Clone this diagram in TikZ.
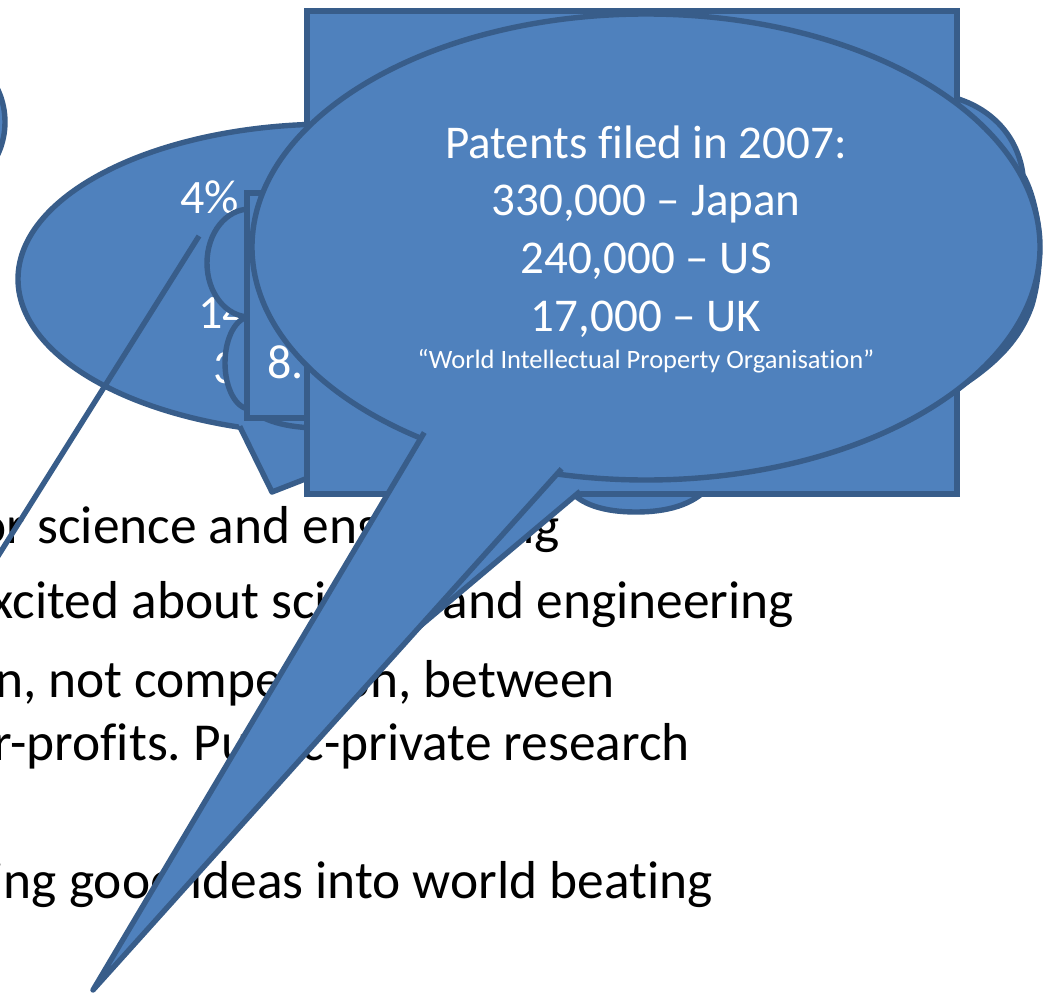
\documentclass[tikz,border=0pt]{standalone}
\usepackage{fontspec}
\setmainfont{Carlito}[Ligatures={NoCommon,NoContextual}]
\usetikzlibrary{calc}
\definecolor{shapefill}{HTML}{4F81BD}
\definecolor{shapeline}{HTML}{385D8A}
\frenchspacing
\tikzset{
  shp/.style={fill=shapefill, draw=shapeline, line width=5.4pt, line join=round},
  edgeline/.style={draw=shapeline, line width=5.4pt, line join=round},
  bullettext/.style={anchor=base east, inner sep=0pt, outer sep=0pt, text=black, font=\fontsize{53.4}{60}\selectfont},
  calltext/.style={anchor=base, inner sep=0pt, outer sep=0pt, text=white, font=\fontsize{47}{56}\selectfont},
  smalltext/.style={anchor=base, inner sep=0pt, outer sep=0pt, text=white, font=\fontsize{26.5}{30}\selectfont},
  lefttext/.style={anchor=base west, inner sep=0pt, outer sep=0pt, text=white, font=\fontsize{48}{56}\selectfont},
}
\begin{document}
\begin{tikzpicture}[x=1pt,y=-1pt]
\useasboundingbox (0,0) rectangle (1046,993);
\clip (0,0) rectangle (1046,993);

% body text of the slide (partly hidden)
\node[bullettext] (l1) at (560,543) {or science and engineering};
\node[bullettext] (l2) at (794,618) {xcited about science and engineering};
\node[bullettext] (l3) at (615,697) {n, not competition, between};
\node[bullettext] (l4) at (690,760) {r-profits. Public-private research};
\node[bullettext] (l5) at (713,898) {ing good ideas into world beating};

% circle at the left edge
\draw[shp] (-72,122) circle [radius=77pt];

% ellipse callout B
\coordinate (bTip) at (272,492);
\coordinate (bB1) at (240,427);
\coordinate (bB2) at (446,424);
\draw[shp] (332,279) ellipse [x radius=314pt, y radius=155pt];
\fill[shapefill] (bTip) -- ($(bB1)!-0.15!(bTip)$) -- ($(bB2)!-0.15!(bTip)$) -- cycle;
\draw[edgeline] ($(bB1)!-0.01!(bTip)$) -- (bTip) -- ($(bB2)!-0.01!(bTip)$);
\node[lefttext] (b1) at (180,213) {4\%};
\node[lefttext] (b2) at (198,328) {14};
\node[lefttext] (b3) at (213,383) {3};

% thin line
\coordinate (lnA) at (199,236);
\coordinate (lnB) at (-12,572);
\draw[edgeline, line cap=butt] (lnA) -- (lnB);

% cloud
\draw[shp] (250,209)
  .. controls (226,209) and (207,233) .. (207,263)
  .. controls (207,293) and (226,317) .. (250,317)
  .. controls (236,317) and (225,338) .. (225,363)
  .. controls (225,388) and (236,409) .. (250,409)
  .. controls (262,420) and (285,428) .. (320,428)
  -- (568,488)
  .. controls (580,505) and (605,512) .. (636,512)
  .. controls (667,512) and (692,505) .. (708,488)
  -- (945,478) -- (955,390)
  .. controls (995,365) and (1020,340) .. (1032,305)
  .. controls (1045,260) and (1040,205) .. (1023,175)
  .. controls (1018,135) and (990,108) .. (955,98)
  -- (940,30) -- (330,30) -- (320,200) -- cycle;

% small rectangle D
\draw[shp, line join=miter] (247,193) rectangle (600,418);
\node[lefttext] (d1) at (267,378) {8.1};

% rectangle callout E
\coordinate (eTip) at (261,760);
\coordinate (eB1) at (470,494);
\coordinate (eB2) at (577,494);
\draw[shp, line join=miter] (307,11) rectangle (957,494);
\fill[shapefill] (eTip) -- ($(eB1)!-0.15!(eTip)$) -- ($(eB2)!-0.15!(eTip)$) -- cycle;
\draw[edgeline] ($(eB1)!-0.01!(eTip)$) -- (eTip) -- ($(eB2)!-0.01!(eTip)$);

% ellipse callout C
\coordinate (cTip) at (93,990);
\coordinate (cB1) at (421,438);
\coordinate (cB2) at (557,474);
\draw[shp] (646,247) ellipse [x radius=394pt, y radius=233pt];
\fill[shapefill] (cTip) -- ($(cB1)!-0.15!(cTip)$) -- ($(cB2)!-0.15!(cTip)$) -- cycle;
\draw[edgeline] ($(cB1)!-0.01!(cTip)$) -- (cTip) -- ($(cB2)!-0.01!(cTip)$);
\node[calltext] (c1) at (646,158) {Patents filed in 2007:};
\node[calltext] (c2) at (646,215) {330,000 – Japan};
\node[calltext] (c3) at (646,273) {240,000 – US};
\node[calltext] (c4) at (646,331) {17,000 – UK};
\node[smalltext] (c5) at (646,368) {“World Intellectual Property Organisation”};
\end{tikzpicture}
\end{document}
